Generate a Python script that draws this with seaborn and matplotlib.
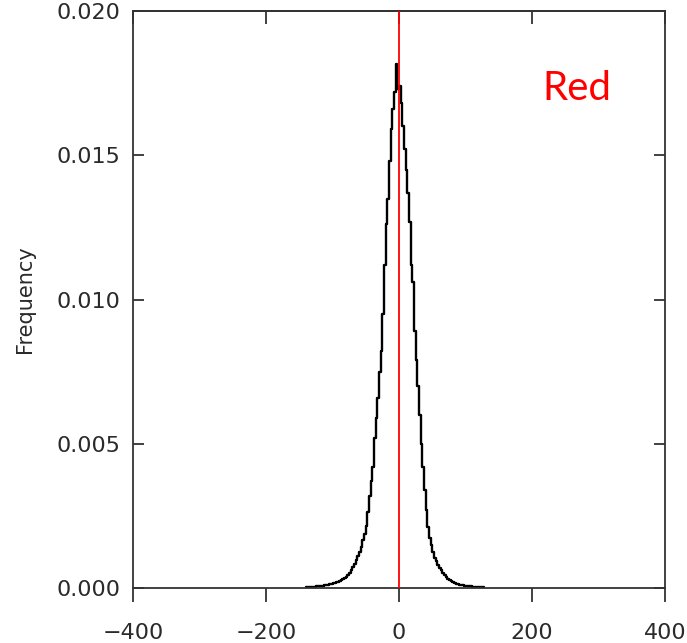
import numpy as np
import pandas as pd
import matplotlib
matplotlib.use("Agg")
import matplotlib.pyplot as plt
import seaborn as sns

# histogram: bins of width 2.5 starting at -140
bin_start = -140.0
bin_width = 2.5
density = [
    # left tail -> peak (centres -138.75 ... -1.25)
    0.00002, 0.00004, 0.00004, 0.00005, 0.00005, 0.00005, 0.00006, 0.00006,
    0.00007, 0.00007, 0.00008, 0.00009, 0.00010, 0.00012, 0.00014, 0.00015,
    0.00017, 0.00018, 0.00020, 0.00022, 0.00024, 0.00027, 0.00030, 0.00034,
    0.00039, 0.00045, 0.00053, 0.00062, 0.00072, 0.00083, 0.00097, 0.00110,
    0.00125, 0.00143, 0.00166, 0.00188, 0.00215, 0.00265, 0.00320, 0.00370,
    0.00420, 0.00520, 0.00590, 0.00660, 0.00750, 0.00820, 0.00950, 0.01120,
    0.01260, 0.01350, 0.01480, 0.01590, 0.01660, 0.01720, 0.01815, 0.01730,
    # peak -> right tail (centres 1.25 ... 126.25)
    0.01740, 0.01680, 0.01600, 0.01520, 0.01450, 0.01370, 0.01270, 0.01120,
    0.01060, 0.00890, 0.00790, 0.00700, 0.00600, 0.00500, 0.00420, 0.00340,
    0.00270, 0.00210, 0.00175, 0.00150, 0.00125, 0.00105, 0.00092, 0.00080,
    0.00070, 0.00062, 0.00052, 0.00045, 0.00039, 0.00033, 0.00028, 0.00024,
    0.00020, 0.00017, 0.00015, 0.00013, 0.00011, 0.00010, 0.00009, 0.00008,
    0.00008, 0.00007, 0.00006, 0.00006, 0.00005, 0.00005, 0.00005, 0.00004,
    0.00004, 0.00004, 0.00003,
]
x_ticks = [-400, -200, 0, 200, 400]
y_ticks = [0.000, 0.005, 0.010, 0.015, 0.020]
marker_x = 0
label_text = "Red"
y_label = "Frequency"


def build_frame():
    n = len(density)
    centres = bin_start + bin_width * (np.arange(n) + 0.5)
    df = pd.DataFrame({"value": centres, "density": density})
    return df, (bin_start, bin_start + bin_width * n)


def plot_hist(df, brange):
    sns.set_theme(style="white")
    plt.rcParams["font.family"] = ["DejaVu Sans"]
    axis_col = "#333333"
    text_col = "#2a2a2a"

    fig = plt.figure(figsize=(6.87, 6.43), dpi=100)
    ax = fig.add_axes([0.1936, 0.0855, 0.7744, 0.8974])

    sns.histplot(data=df, x="value", weights="density", binwidth=bin_width,
                 binrange=brange, element="step", fill=False, color="black",
                 linewidth=1.7, ax=ax)
    ax.axvline(marker_x, color="red", linewidth=1.3, zorder=3)

    ax.set_xlim(-400, 400)
    ax.set_ylim(0, 0.020)
    ax.set_xticks(x_ticks)
    ax.set_yticks(y_ticks)
    ax.set_yticklabels([f"{v:.3f}" for v in y_ticks])
    ax.set_xlabel("")
    ax.set_ylabel(y_label, fontsize=15, color=text_col)
    ax.yaxis.set_label_coords(-0.185, 0.5)

    for s in ax.spines.values():
        s.set_visible(True)
        s.set_color(axis_col)
        s.set_linewidth(1.3)

    ax.tick_params(axis="x", direction="out", length=10, width=1.3, color=axis_col,
                   labelsize=16, labelcolor=text_col, pad=15, top=False, bottom=True)
    ax.tick_params(axis="y", direction="in", length=8, width=1.3, color=axis_col,
                   labelsize=16, labelcolor=text_col, pad=9, left=True, right=True)

    top = ax.secondary_xaxis("top")
    top.set_xticks(x_ticks)
    top.tick_params(direction="in", length=9, width=1.3, color=axis_col, labeltop=False)
    top.spines["top"].set_color(axis_col)
    top.spines["top"].set_linewidth(1.3)

    ax.text(0.769, 0.846, label_text, transform=ax.transAxes, color="red",
            fontsize=29, family=["Lato", "DejaVu Sans"], ha="left", va="baseline")

    fig.savefig("out.png", dpi=100)


def main():
    df, brange = build_frame()
    plot_hist(df, brange)


if __name__ == "__main__":
    main()
